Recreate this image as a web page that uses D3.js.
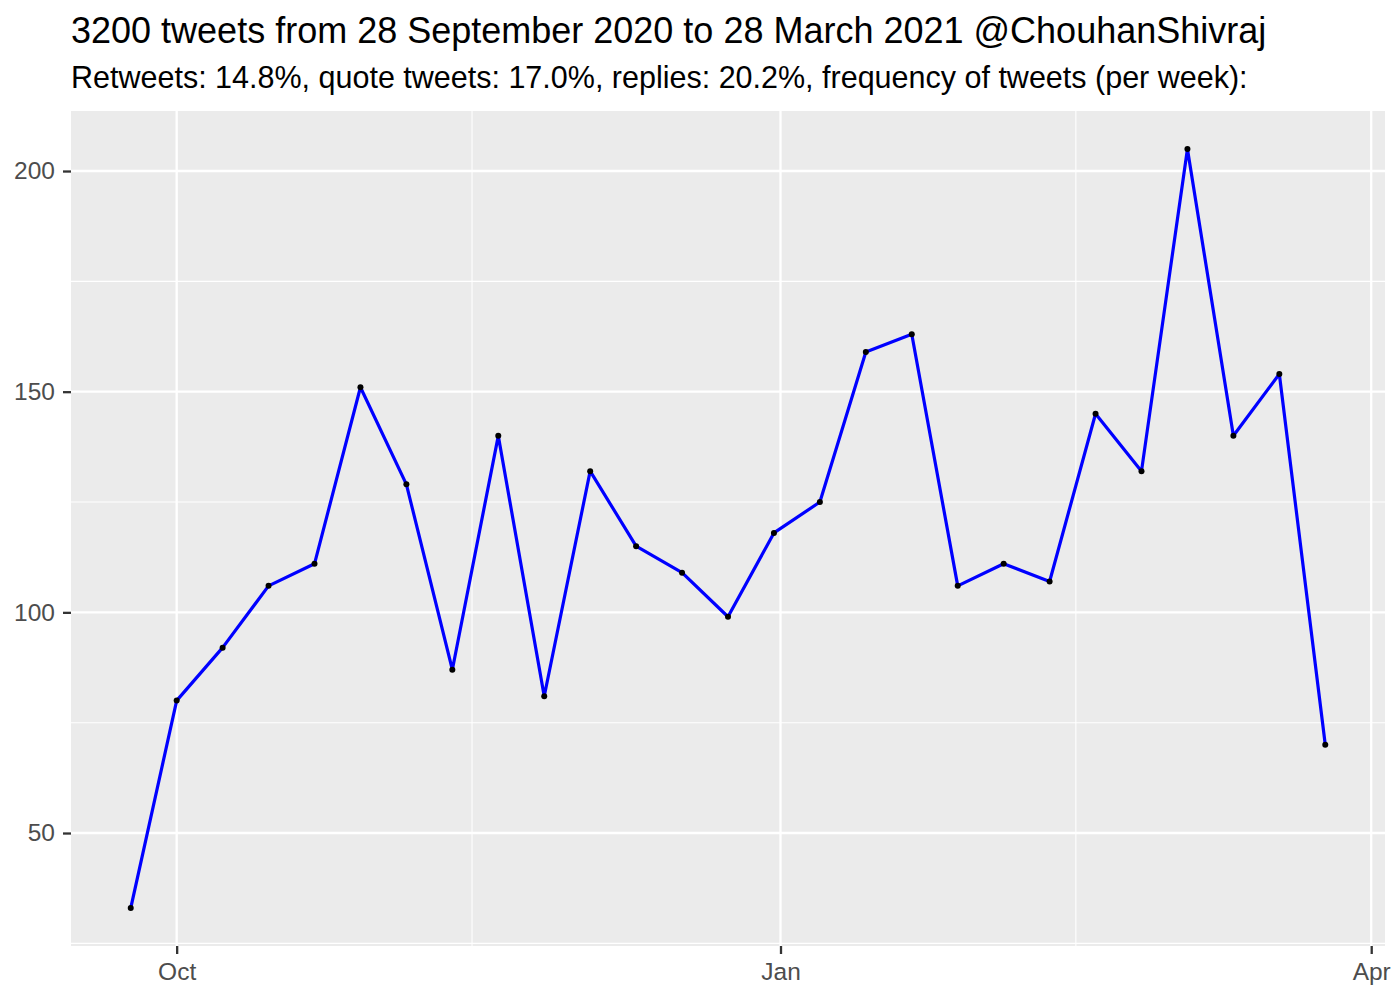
<!DOCTYPE html>
<html><head><meta charset="utf-8">
<script src="https://cdn.jsdelivr.net/npm/d3@7"></script>
<style>body{margin:0;background:#fff;} text{font-family:"Liberation Sans",Arial,sans-serif;}</style>
</head><body>
<svg id="c" width="1400" height="1000"></svg>
<script>
const weeks = ["2020-09-24","2020-10-01","2020-10-08","2020-10-15","2020-10-22","2020-10-29","2020-11-05","2020-11-12","2020-11-19","2020-11-26","2020-12-03","2020-12-10","2020-12-17","2020-12-24","2020-12-31","2021-01-07","2021-01-14","2021-01-21","2021-01-28","2021-02-04","2021-02-11","2021-02-18","2021-02-25","2021-03-04","2021-03-11","2021-03-18","2021-03-25"];
const tweetsPerWeek = [33,80,92,106,111,151,129,87,140,81,132,115,109,99,118,125,159,163,106,111,107,145,132,205,140,154,70];
const xTickDates = ["2020-10-01","2021-01-01","2021-04-01"];
const xTickLabels = ["Oct","Jan","Apr"];
const xMinorDates = ["2020-11-15","2021-02-15"];
const yTicks = [50,100,150,200];
const yMinor = [25,75,125,175];
const title = "3200 tweets from 28 September 2020 to 28 March 2021 @ChouhanShivraj";
const subtitle = "Retweets: 14.8%, quote tweets: 17.0%, replies: 20.2%, frequency of tweets (per week):";

const parse = d3.utcParse("%Y-%m-%d");
const data = weeks.map((w,i)=>({date:parse(w), v:tweetsPerWeek[i]}));
const L=71,R=1385,T=111,B=946;
const svg = d3.select("#c");

const xe = d3.extent(data,d=>d.date);
const xpad = (xe[1]-xe[0])*0.05;
const x = d3.scaleUtc().domain([new Date(+xe[0]-xpad), new Date(+xe[1]+xpad)]).range([L,R]);
const ye = d3.extent(data,d=>d.v);
const ypad = (ye[1]-ye[0])*0.05;
const y = d3.scaleLinear().domain([ye[0]-ypad, ye[1]+ypad]).range([B,T]);

svg.append("rect").attr("x",L).attr("y",T).attr("width",R-L).attr("height",B-T).attr("fill","#EBEBEB");
const g = svg.append("g");
g.selectAll(".ym").data(yMinor.filter(v=>v>=y.domain()[0]&&v<=y.domain()[1])).join("line")
 .attr("x1",L).attr("x2",R).attr("y1",d=>y(d)).attr("y2",d=>y(d)).attr("stroke","#fff").attr("stroke-width",1.1);
g.selectAll(".xm").data(xMinorDates.map(parse)).join("line")
 .attr("y1",T).attr("y2",B).attr("x1",d=>x(d)).attr("x2",d=>x(d)).attr("stroke","#fff").attr("stroke-width",1.1);
g.selectAll(".yM").data(yTicks).join("line")
 .attr("x1",L).attr("x2",R).attr("y1",d=>y(d)).attr("y2",d=>y(d)).attr("stroke","#fff").attr("stroke-width",2.3);
g.selectAll(".xM").data(xTickDates.map(parse)).join("line")
 .attr("y1",T).attr("y2",B).attr("x1",d=>x(d)).attr("x2",d=>x(d)).attr("stroke","#fff").attr("stroke-width",2.3);

const xAxis = d3.axisBottom(x).tickValues(xTickDates.map(parse)).tickFormat((d,i)=>xTickLabels[i]).tickSize(8).tickPadding(9);
const ax = svg.append("g").attr("transform",`translate(0,${B})`).call(xAxis);
const yAxis = d3.axisLeft(y).tickValues(yTicks).tickSize(8).tickPadding(8);
const ay = svg.append("g").attr("transform",`translate(${L},0)`).call(yAxis);
[ax,ay].forEach(a=>{
  a.select(".domain").remove();
  a.selectAll(".tick line").attr("stroke","#333").attr("stroke-width",2.3);
  a.selectAll("text").attr("fill","#4D4D4D").style("font-size","24.5px").style("font-family","'Liberation Sans',Arial,sans-serif");
});

svg.append("path").datum(data).attr("fill","none").attr("stroke","#0000FF").attr("stroke-width",3.2)
 .attr("stroke-linejoin","round")
 .attr("d",d3.line().x(d=>x(d.date)).y(d=>y(d.v)));
svg.selectAll(".pt").data(data).join("circle").attr("cx",d=>x(d.date)).attr("cy",d=>y(d.v)).attr("r",3).attr("fill","#000");

svg.append("text").attr("x",71).attr("y",43).text(title).style("font-size","36px").attr("fill","#000");
svg.append("text").attr("x",71).attr("y",88).text(subtitle).style("font-size","30.5px").attr("fill","#000");
</script>
</body></html>
